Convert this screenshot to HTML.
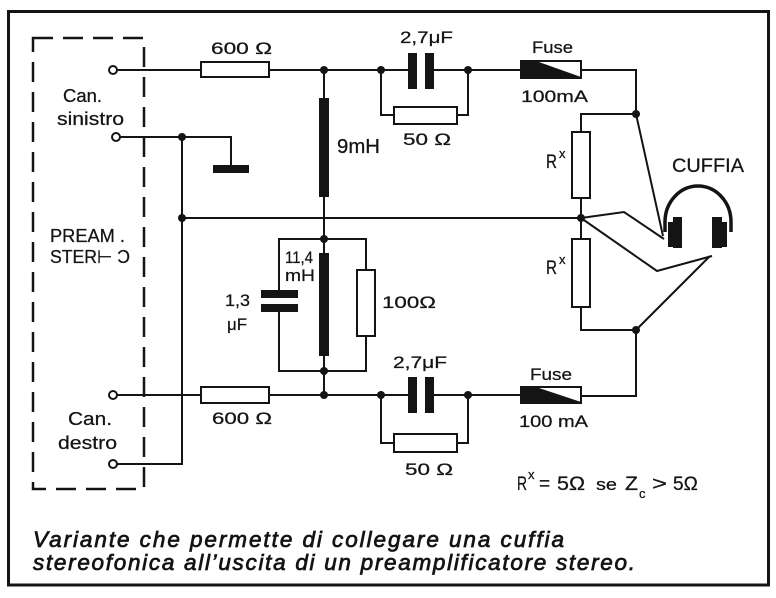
<!DOCTYPE html>
<html>
<head>
<meta charset="utf-8">
<style>
html,body{margin:0;padding:0;background:#fff;}
svg{display:block;}
.t{font-family:"Liberation Sans","DejaVu Sans",sans-serif;fill:#141414;stroke:#141414;stroke-width:0.25;}
.c{font-family:"Liberation Sans","DejaVu Sans",sans-serif;font-style:italic;fill:#141414;stroke:#141414;stroke-width:0.75;}
</style>
</head>
<body>
<svg width="776" height="598" viewBox="0 0 776 598" xmlns="http://www.w3.org/2000/svg">
<rect x="0" y="0" width="776" height="598" fill="#fff"/>
<!-- outer frame -->
<rect x="8.5" y="11.5" width="760" height="573.5" fill="none" stroke="#141414" stroke-width="3"/>
<!-- dashed preamp box -->
<rect x="33" y="38" width="111" height="451" fill="none" stroke="#141414" stroke-width="2.5" stroke-dasharray="20 10"/>

<!-- wires -->
<g fill="none" stroke="#141414" stroke-width="2">
<path d="M117,70 H201"/>
<path d="M269,70 H408"/>
<path d="M434,70 H521"/>
<path d="M581,70 H636 V114 L663,236"/>
<path d="M381,70 V115 H394"/>
<path d="M457,115 H468 V70"/>
<path d="M324,70 V98"/>
<path d="M324,197 V253"/>
<path d="M324,356 V395"/>
<path d="M120,137 H231 V166"/>
<path d="M182,137 V464 H117"/>
<path d="M182,218 H581"/>
<path d="M279,290 V239 H366 V270"/>
<path d="M366,336 V371 H279 V312"/>
<path d="M636,114 H581 V132"/>
<path d="M581,198 V239"/>
<path d="M581,307 V330 H636 V396 H581"/>
<path d="M581,218 L624,212 L664,239"/>
<path d="M581,218 L657,271 L712,256"/>
<path d="M636,330 L710,256"/>
<path d="M117,395 H201"/>
<path d="M269,395 H408"/>
<path d="M434,395 H521"/>
<path d="M381,395 V443 H394"/>
<path d="M457,443 H468 V395"/>
</g>

<!-- resistors -->
<g fill="#fff" stroke="#141414" stroke-width="2">
<rect x="201" y="62" width="68" height="15"/>
<rect x="394" y="107" width="63" height="17"/>
<rect x="572" y="132" width="18" height="66"/>
<rect x="572" y="239" width="18" height="68"/>
<rect x="357" y="270" width="18" height="66"/>
<rect x="201" y="387" width="68" height="16"/>
<rect x="394" y="434" width="63" height="18"/>
<rect x="521" y="61" width="60" height="17"/>
<rect x="521" y="387" width="60" height="16"/>
</g>

<!-- fuse wedges -->
<g fill="#141414">
<polygon points="521,61 536,61 581,77 581,78 521,78"/>
<polygon points="521,387 536,387 581,402 581,403 521,403"/>
<!-- inductors -->
<rect x="319" y="98" width="10" height="99"/>
<rect x="319" y="253" width="10" height="103"/>
<!-- capacitors -->
<rect x="408" y="53" width="9" height="36"/>
<rect x="425" y="53" width="9" height="36"/>
<rect x="408" y="377" width="9" height="36"/>
<rect x="425" y="377" width="9" height="36"/>
<rect x="261" y="290" width="37" height="8"/>
<rect x="261" y="304" width="37" height="8"/>
<!-- ground bar -->
<rect x="213" y="165" width="36" height="8"/>
<!-- junction dots -->
<circle cx="324" cy="70" r="4"/>
<circle cx="381" cy="70" r="4"/>
<circle cx="468" cy="70" r="4"/>
<circle cx="636" cy="114" r="4"/>
<circle cx="182" cy="137" r="4"/>
<circle cx="182" cy="218" r="4"/>
<circle cx="324" cy="239" r="4"/>
<circle cx="581" cy="218" r="4"/>
<circle cx="636" cy="330" r="4"/>
<circle cx="324" cy="371" r="4"/>
<circle cx="324" cy="395" r="4"/>
<circle cx="381" cy="395" r="4"/>
<circle cx="468" cy="395" r="4"/>
</g>

<!-- terminals -->
<g fill="#fff" stroke="#141414" stroke-width="2">
<circle cx="113" cy="70" r="4"/>
<circle cx="116" cy="137" r="4"/>
<circle cx="113" cy="395" r="4"/>
<circle cx="113" cy="464" r="4"/>
</g>

<!-- headphones -->
<path d="M665,232 L665,222 A33,36 0 0 1 731,222 L731,232" fill="none" stroke="#141414" stroke-width="3.5"/>
<g fill="#141414">
<rect x="668" y="222" width="6" height="25"/>
<rect x="673" y="217" width="9" height="31"/>
<rect x="712" y="217" width="10" height="31"/>
<rect x="721" y="222" width="6" height="25"/>
</g>

<!-- labels -->
<g class="t">
<text x="211" y="54" font-size="17" textLength="61" lengthAdjust="spacingAndGlyphs">600 Ω</text>
<text x="400" y="43" font-size="17" textLength="53" lengthAdjust="spacingAndGlyphs">2,7μF</text>
<text x="532" y="53" font-size="17" textLength="41" lengthAdjust="spacingAndGlyphs">Fuse</text>
<text x="521" y="102" font-size="17" textLength="67" lengthAdjust="spacingAndGlyphs">100mA</text>
<text x="403" y="145" font-size="17" textLength="48" lengthAdjust="spacingAndGlyphs">50 Ω</text>
<text x="337" y="153" font-size="20" textLength="43" lengthAdjust="spacingAndGlyphs">9mH</text>

<text x="63" y="102" font-size="18" textLength="39" lengthAdjust="spacingAndGlyphs">Can.</text>
<text x="57" y="125" font-size="18" textLength="67" lengthAdjust="spacingAndGlyphs">sinistro</text>
<text x="50" y="242" font-size="18" textLength="75" lengthAdjust="spacingAndGlyphs">PREAM .</text>
<text x="50" y="263" font-size="18" textLength="80" lengthAdjust="spacingAndGlyphs">STER⊢ Ͻ</text>
<text x="68" y="425" font-size="18" textLength="44" lengthAdjust="spacingAndGlyphs">Can.</text>
<text x="58" y="449" font-size="18" textLength="59" lengthAdjust="spacingAndGlyphs">destro</text>

<text x="546" y="168" font-size="19" textLength="11" lengthAdjust="spacingAndGlyphs">R</text>
<text x="559" y="158" font-size="13">x</text>
<text x="546" y="274" font-size="19" textLength="11" lengthAdjust="spacingAndGlyphs">R</text>
<text x="559" y="264" font-size="13">x</text>

<text x="285" y="263" font-size="17" textLength="28" lengthAdjust="spacingAndGlyphs">11,4</text>
<text x="285" y="281" font-size="17" textLength="30" lengthAdjust="spacingAndGlyphs">mH</text>
<text x="225" y="306" font-size="17" textLength="25" lengthAdjust="spacingAndGlyphs">1,3</text>
<text x="227" y="330" font-size="17" textLength="20" lengthAdjust="spacingAndGlyphs">μF</text>
<text x="382" y="308" font-size="17" textLength="54" lengthAdjust="spacingAndGlyphs">100Ω</text>

<text x="672" y="172" font-size="19" textLength="72" lengthAdjust="spacingAndGlyphs">CUFFIA</text>

<text x="212" y="424" font-size="17" textLength="60" lengthAdjust="spacingAndGlyphs">600 Ω</text>
<text x="393" y="368" font-size="17" textLength="54" lengthAdjust="spacingAndGlyphs">2,7μF</text>
<text x="530" y="380" font-size="17" textLength="42" lengthAdjust="spacingAndGlyphs">Fuse</text>
<text x="519" y="427" font-size="17" textLength="69" lengthAdjust="spacingAndGlyphs">100 mA</text>
<text x="405" y="475" font-size="17" textLength="48" lengthAdjust="spacingAndGlyphs">50 Ω</text>

<text x="517" y="490" font-size="19" textLength="10" lengthAdjust="spacingAndGlyphs">R</text>
<text x="528" y="479" font-size="13">x</text>
<text x="539" y="490" font-size="19">=</text>
<text x="557" y="490" font-size="19" textLength="28" lengthAdjust="spacingAndGlyphs">5Ω</text>
<text x="596" y="490" font-size="17" textLength="21" lengthAdjust="spacingAndGlyphs">se</text>
<text x="625" y="490" font-size="19" textLength="13" lengthAdjust="spacingAndGlyphs">Z</text>
<text x="639" y="498" font-size="13">c</text>
<text x="652" y="490" font-size="19" textLength="15" lengthAdjust="spacingAndGlyphs">&gt;</text>
<text x="673" y="490" font-size="19">5Ω</text>
</g>

<!-- caption -->
<g class="c">
<text x="33" y="547" font-size="22.5" textLength="531" lengthAdjust="spacing">Variante che permette di collegare una cuffia</text>
<text x="33" y="570" font-size="22.5" textLength="602" lengthAdjust="spacing">stereofonica all’uscita di un preamplificatore stereo.</text>
</g>
</svg>
</body>
</html>
